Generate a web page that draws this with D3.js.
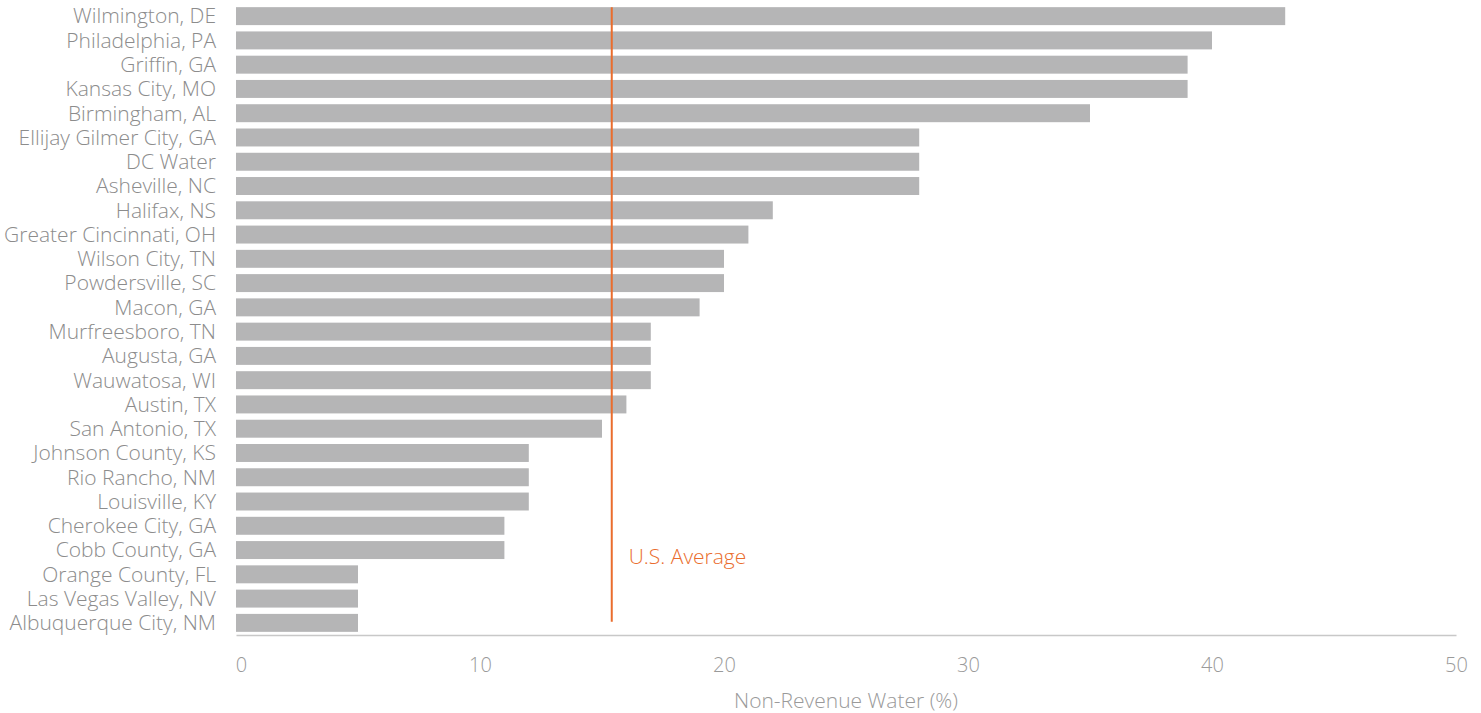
<!DOCTYPE html>
<html>
<head>
<meta charset="utf-8">
<script src="https://cdn.jsdelivr.net/npm/d3@7"></script>
<style>
  body { margin: 0; background: #fff; }
  svg text { font-family: "Open Sans", Lato, sans-serif; font-weight: 300; }
</style>
</head>
<body>
<div id="chart"></div>
<script>
const cities = ["Wilmington, DE", "Philadelphia, PA", "Griffin, GA", "Kansas City, MO", "Birmingham, AL",
  "Ellijay Gilmer City, GA", "DC Water", "Asheville, NC", "Halifax, NS", "Greater Cincinnati, OH",
  "Wilson City, TN", "Powdersville, SC", "Macon, GA", "Murfreesboro, TN", "Augusta, GA",
  "Wauwatosa, WI", "Austin, TX", "San Antonio, TX", "Johnson County, KS", "Rio Rancho, NM",
  "Louisville, KY", "Cherokee City, GA", "Cobb County, GA", "Orange County, FL",
  "Las Vegas Valley, NV", "Albuquerque City, NM"];
const nrw = [43, 40, 39, 39, 35, 28, 28, 28, 22, 21, 20, 20, 19, 17, 17, 17, 16, 15, 12, 12, 12, 11, 11, 5, 5, 5];
const usAverage = 15.4;
const xTicks = [0, 10, 20, 30, 40, 50];

const width = 1481, height = 713;
const mLeft = 236, mRight = 1456, mTop = 4, mBottom = 635;

const svg = d3.select("#chart").append("svg")
  .attr("width", width)
  .attr("height", height);

const x = d3.scaleLinear().domain([0, 50]).range([mLeft, mRight]);
const y = d3.scaleBand().domain(cities).range([mTop, mBottom]).paddingInner(0.26).paddingOuter(0.13);

// bars
svg.append("g")
  .selectAll("rect")
  .data(cities)
  .join("rect")
  .attr("x", x(0))
  .attr("y", d => y(d))
  .attr("width", (d, i) => x(nrw[i]) - x(0))
  .attr("height", y.bandwidth())
  .attr("fill", "#b5b5b6");

// category labels
svg.append("g")
  .selectAll("text")
  .data(cities)
  .join("text")
  .attr("x", mLeft - 20)
  .attr("y", d => y(d) + y.bandwidth() / 2)
  .attr("dy", "0.35em")
  .attr("text-anchor", "end")
  .attr("fill", "#8c8c8c")
  .style("font-size", "21px")
  .text(d => d);

// x axis
const xAxis = svg.append("g")
  .attr("transform", "translate(0," + mBottom + ")")
  .call(d3.axisBottom(x).tickValues(xTicks).tickSize(0).tickPadding(23));
xAxis.select(".domain").attr("stroke", "#c8c8c8").attr("stroke-width", 1.5);
xAxis.selectAll("text")
  .attr("fill", "#9a9a9a")
  .attr("dx", d => d === 0 ? 5 : 0)
  .style("font-size", "20px")
  .style("font-family", "'Open Sans', Lato, sans-serif");

svg.append("text")
  .attr("x", (mLeft + mRight) / 2)
  .attr("y", 708)
  .attr("text-anchor", "middle")
  .attr("fill", "#9a9a9a")
  .style("font-size", "21px")
  .text("Non-Revenue Water (%)");

// average line
svg.append("line")
  .attr("x1", x(usAverage))
  .attr("x2", x(usAverage))
  .attr("y1", y(cities[0]))
  .attr("y2", y(cities[cities.length - 1]) + y.bandwidth() - 10)
  .attr("stroke", "#ea6d2d")
  .attr("stroke-width", 2);

svg.append("text")
  .attr("x", x(usAverage) + 17)
  .attr("y", 557)
  .attr("dy", "0.35em")
  .attr("fill", "#ea6d2d")
  .style("font-size", "21px")
  .text("U.S. Average");
</script>
</body>
</html>
